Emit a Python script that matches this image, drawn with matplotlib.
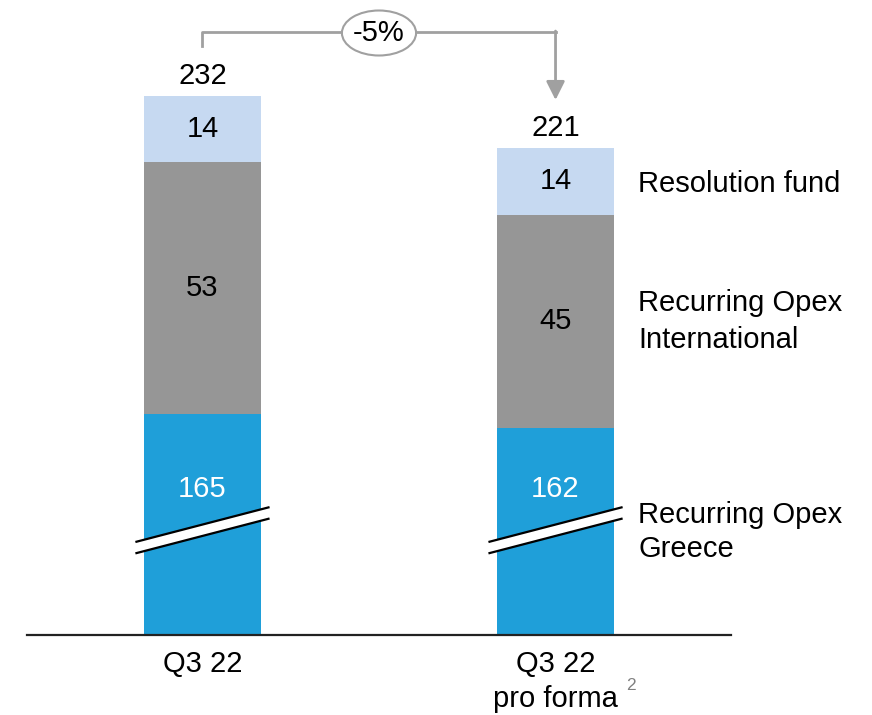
import numpy as np
import matplotlib
matplotlib.use("Agg")
import matplotlib.pyplot as plt
from matplotlib.patches import Ellipse, Polygon

plt.rcParams["font.family"] = ["Liberation Sans", "DejaVu Sans"]

# ------------- Data -------------
categories = ["Q3 22", "Q3 22\npro forma"]
greece = [165, 162]
international = [53, 45]
resolution = [14, 14]
totals = [232, 221]
series_names = ["Recurring Opex\nGreece", "Recurring Opex\nInternational", "Resolution fund"]
change_label = "-5%"

# ------------- Style -------------
C_GREECE = "#1F9FD9"
C_INTL = "#969696"
C_RES = "#C6D9F1"
C_ARROW = "#A0A0A0"
FS = 21
PX = 4.74            # pixels per unit
Y_CUT = 118.3        # broken axis: bottom of visible range
BREAK_Y = 140.4      # where the break marks sit
LABEL_GR_Y = 149.0   # label for the truncated segment


def py(p):
    # pixel row -> data y
    return Y_CUT + (635 - p) / PX


fig = plt.figure(figsize=(8.72, 7.15), dpi=100)
ax = fig.add_axes([27 / 872, 80 / 715, 704 / 872, 635 / 715])
ax.set_xlim(-0.497, 1.497)
ax.set_ylim(Y_CUT, py(0))
ax.axis("off")

x = np.arange(len(categories))
w = 0.331
g = np.array(greece)
i = np.array(international)
r = np.array(resolution)
ax.bar(x, g, w, color=C_GREECE, zorder=2)
ax.bar(x, i, w, bottom=g, color=C_INTL, zorder=2)
ax.bar(x, r, w, bottom=g + i, color=C_RES, zorder=2)

# baseline
ax.axhline(Y_CUT, color="#222222", lw=1.6, zorder=3, clip_on=False)

# segment labels
for k in range(len(x)):
    ax.text(x[k], LABEL_GR_Y, str(greece[k]), ha="center", va="center", fontsize=FS, color="white", zorder=4)
    ax.text(x[k], g[k] + i[k] / 2, str(international[k]), ha="center", va="center", fontsize=FS, zorder=4)
    ax.text(x[k], g[k] + i[k] + r[k] / 2, str(resolution[k]), ha="center", va="center", fontsize=FS, zorder=4)
    ax.text(x[k], totals[k] + 4.3, str(totals[k]), ha="center", va="center", fontsize=FS)

# break marks
hw, hh, gap = 0.19, 3.68, 1.2
for xc in x:
    poly = Polygon([(xc - hw, BREAK_Y - hh + gap), (xc + hw, BREAK_Y + hh + gap),
                    (xc + hw, BREAK_Y + hh - gap), (xc - hw, BREAK_Y - hh - gap)],
                   closed=True, facecolor="white", edgecolor="none", zorder=5)
    ax.add_patch(poly)
    for s in (1, -1):
        ax.plot([xc - hw, xc + hw], [BREAK_Y - hh + s * gap, BREAK_Y + hh + s * gap],
                color="black", lw=1.6, zorder=6, solid_capstyle="butt")

# change bracket
top_y = py(32)
ax.plot([x[0], x[0], x[1]], [py(46), top_y, top_y], color=C_ARROW, lw=2, zorder=3)
ax.annotate("", xy=(x[1], py(100)), xytext=(x[1], top_y + 0.2),
            arrowprops=dict(arrowstyle="-|>", color=C_ARROW, lw=2, mutation_scale=28, shrinkA=0, shrinkB=0))
ax.add_patch(Ellipse((0.5, py(33)), 0.21, 45 / PX, facecolor="white", edgecolor=C_ARROW, lw=1.5, zorder=4))
ax.text(0.5, py(33), change_label, ha="center", va="center", fontsize=FS, zorder=5)

# series labels on the right
label_x = 1.234
ax.text(label_x, py(532), series_names[0], ha="left", va="center", fontsize=FS, linespacing=1.25)
ax.text(label_x, py(321.5), series_names[1], ha="left", va="center", fontsize=FS, linespacing=1.38)
ax.text(label_x, py(184), series_names[2], ha="left", va="center", fontsize=FS)

# category labels
for k in range(len(x)):
    ax.text(x[k], py(650), categories[k], ha="center", va="top", fontsize=FS,
            linespacing=1.3, clip_on=False)
ax.text(1.2, py(686), "2", ha="left", va="center", fontsize=12.5, color="#808080", clip_on=False)

fig.savefig("out.png", dpi=100)
